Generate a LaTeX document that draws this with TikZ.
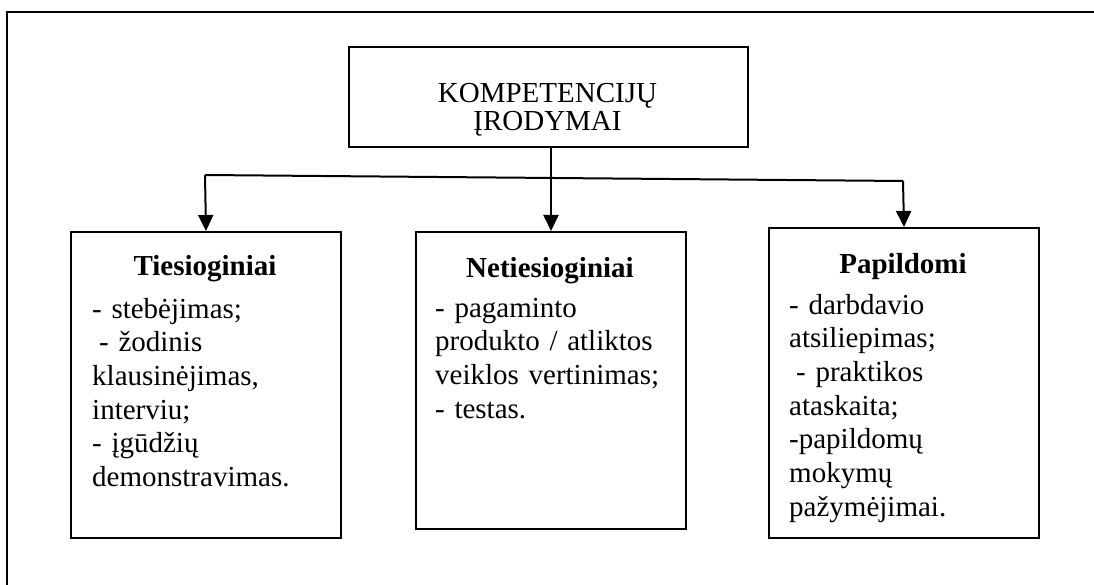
\documentclass[tikz,border=0pt]{standalone}
\usepackage{fontspec}
\setmainfont{Liberation Serif}
\usetikzlibrary{arrows.meta}
\begin{document}
\begin{tikzpicture}[x=1pt,y=-1pt,
  box/.style={draw,line width=2pt,minimum width=270pt,anchor=north west,inner sep=0pt},
  ttl/.style={anchor=base,inner sep=0pt,font=\fontsize{29}{33.7}\selectfont\bfseries},
  body/.style={anchor=base west,align=left,text width=245pt,inner sep=0pt,
    font=\fontsize{29}{33.7}\selectfont},
  arr/.style={line width=2pt,-{Triangle[width=15pt,length=16pt]}},
  conn/.style={line width=2pt}]
\useasboundingbox (0,0) rectangle (1094,585);
% outer frame, running past the right and bottom edges
\begin{scope}
  \clip (0,0) rectangle (1094,585);
  \draw[line width=2.5pt] (7,12) rectangle (1120,620);
\end{scope}

% heading box
\node[draw,line width=2pt,anchor=north west,minimum width=399pt,minimum height=100pt,inner sep=0pt]
  (top) at (348,46) {};
\node[anchor=base,align=center,text width=390pt,inner sep=0pt,
  font=\fontsize{29}{28}\selectfont] (toptxt) at (547.5,103) {KOMPETENCIJŲ\\ĮRODYMAI};

% three kinds of evidence
\node[box,minimum height=306pt] (t1) at (70,231) {};
\node[box,minimum height=297pt] (n1) at (415,231) {};
\node[box,minimum height=310pt] (p1) at (768,227) {};

\node[ttl] (t1h) at (205,275) {Tiesioginiai};
\node[body] (t1b) at (92,318) {- stebėjimas;\\
  \hspace*{7pt}- žodinis\\
  klausinėjimas,\\
  interviu;\\
  - įgūdžių\\
  demonstravimas.};

\node[ttl] (n1h) at (550,277) {Netiesioginiai};
\node[body] (n1b) at (435,317) {- pagaminto\\
  produkto / atliktos\\
  veiklos vertinimas;\\
  - testas.};

\node[ttl] (p1h) at (903,273) {Papildomi};
\node[body] (p1b) at (789,314) {- darbdavio\\
  atsiliepimas;\\
  \hspace*{7pt}- praktikos\\
  ataskaita;\\
  -papildomų\\
  mokymų\\
  pažymėjimai.};

% connectors
\coordinate (hl) at (205,175);
\coordinate (hr) at (903,181);
\draw[conn] (hl) -- (hr);
\draw[arr] (top.south -| n1.north) -- (n1.north);
\draw[arr] (hl) -- (t1.north);
\draw[arr] (hr) -- (p1.north);
\end{tikzpicture}
\end{document}
